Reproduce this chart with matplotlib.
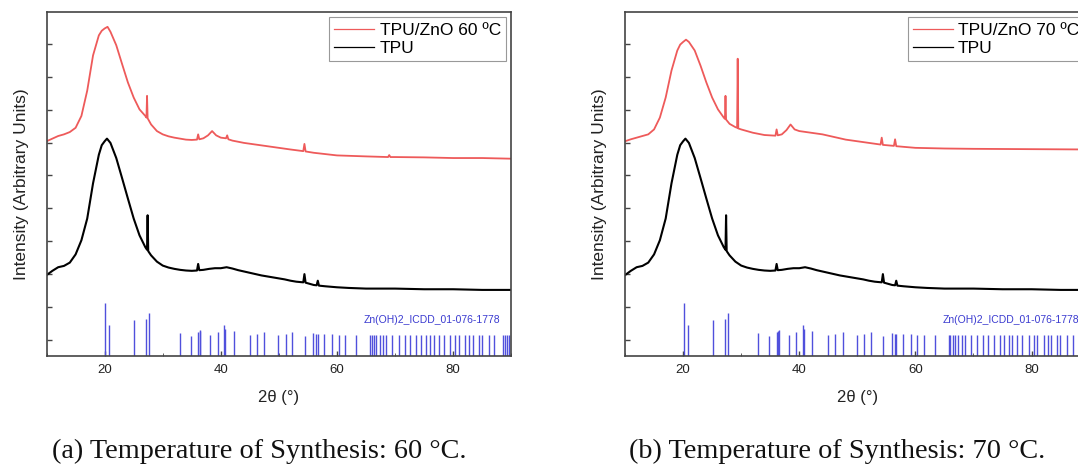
import matplotlib
matplotlib.use("Agg")
import matplotlib.pyplot as plt
from matplotlib.ticker import MultipleLocator

plt.rcParams["font.family"] = ["Liberation Sans", "DejaVu Sans"]

# 2theta / intensity (arbitrary, stacked units)
tpu_x = [10, 11, 12, 13, 14, 15, 16, 17, 18, 19, 19.5, 20, 20.4, 21, 22, 23, 24, 25, 26, 27,
         27.3, 27.4, 27.5, 28, 29, 30, 31, 32, 33, 34, 35, 35.9, 36.1, 36.3, 37, 38, 39, 40,
         41, 42, 43, 44, 45, 46, 47, 48, 49, 50, 51, 52, 53, 54.2, 54.4, 54.6, 55, 56, 56.5,
         56.7, 56.9, 58, 60, 62, 65, 70, 75, 80, 85, 90]
tpu_y = [1.97, 2.10, 2.21, 2.25, 2.35, 2.60, 3.03, 3.69, 4.76, 5.63, 5.92, 6.04, 6.12, 5.99,
         5.53, 4.92, 4.30, 3.69, 3.18, 2.82, 2.74, 3.79, 2.70, 2.57, 2.38, 2.26, 2.20, 2.16,
         2.13, 2.11, 2.10, 2.11, 2.31, 2.12, 2.13, 2.16, 2.18, 2.18, 2.21, 2.17, 2.12, 2.08,
         2.04, 2.00, 1.96, 1.93, 1.90, 1.87, 1.84, 1.80, 1.77, 1.75, 2.00, 1.74, 1.72, 1.67,
         1.66, 1.80, 1.65, 1.63, 1.60, 1.58, 1.56, 1.56, 1.54, 1.54, 1.52, 1.52]

zno60_x = [10, 11, 12, 13, 14, 15, 16, 17, 18, 19, 19.5, 20, 20.5, 21, 22, 23, 24, 25, 26, 27,
           27.2, 27.3, 27.4, 28, 29, 30, 31, 32, 33, 34, 35, 35.9, 36.1, 36.3, 37, 37.8, 38.5,
           39.2, 40, 40.9, 41.1, 41.3, 42, 44, 46, 48, 50, 52, 54.2, 54.4, 54.6, 56, 58, 60,
           65, 68.8, 69, 69.2, 70, 75, 80, 85, 90]
zno60_y = [6.04, 6.12, 6.20, 6.25, 6.32, 6.45, 6.81, 7.58, 8.65, 9.26, 9.40, 9.47, 9.52, 9.37,
           8.96, 8.39, 7.83, 7.37, 7.01, 6.81, 6.76, 7.42, 6.74, 6.55, 6.35, 6.25, 6.19, 6.15,
           6.12, 6.09, 6.08, 6.09, 6.25, 6.10, 6.13, 6.22, 6.35, 6.22, 6.15, 6.13, 6.22, 6.10,
           6.06, 5.99, 5.94, 5.89, 5.84, 5.79, 5.74, 5.96, 5.73, 5.69, 5.65, 5.61, 5.58, 5.56,
           5.62, 5.56, 5.56, 5.55, 5.53, 5.53, 5.51]

zno70_x = [10, 11, 12, 13, 14, 15, 16, 17, 18, 19, 19.5, 20, 20.5, 21, 22, 23, 24, 25, 26, 27,
           27.2, 27.3, 27.4, 28, 29, 29.3, 29.4, 29.5, 30, 32, 34, 35.9, 36.1, 36.3, 37, 37.8,
           38.5, 39.2, 40, 42, 44, 46, 48, 50, 52, 54, 54.2, 54.4, 56.3, 56.5, 56.7, 58, 60,
           65, 70, 80, 90]
zno70_y = [6.04, 6.10, 6.15, 6.20, 6.25, 6.40, 6.76, 7.37, 8.19, 8.80, 8.98, 9.06, 9.13, 9.06,
           8.80, 8.34, 7.83, 7.37, 7.01, 6.76, 6.72, 7.42, 6.70, 6.57, 6.47, 6.45, 8.55, 6.43,
           6.40, 6.30, 6.23, 6.21, 6.40, 6.22, 6.25, 6.38, 6.55, 6.40, 6.35, 6.30, 6.25, 6.17,
           6.09, 6.04, 5.99, 5.94, 6.15, 5.93, 5.90, 6.10, 5.89, 5.87, 5.84, 5.82, 5.81, 5.80,
           5.79]

# Zn(OH)2 ICDD 01-076-1778 reference lines (position, relative intensity %)
ref_pos = [20.1, 20.8, 25.1, 27.2, 27.7, 32.9, 34.8, 36.1, 36.4, 36.5, 38.2, 39.5, 40.6, 40.8,
           42.2, 45.0, 46.2, 47.5, 49.9, 51.2, 52.3, 54.5, 55.9, 56.4, 56.7, 57.8, 59.2, 60.3,
           61.4, 63.3, 65.7, 66.0, 66.4, 66.8, 67.4, 68.0, 68.5, 69.5, 70.6, 71.7, 72.5, 73.6,
           74.5, 75.3, 76.1, 76.7, 77.5, 78.4, 79.5, 80.4, 81.0, 82.1, 82.8, 83.4, 84.4, 84.9,
           86.1, 87.1, 88.6, 88.9, 89.3, 89.7]
ref_int = [100, 58, 69, 71, 82, 44, 38, 46, 48, 50, 40, 45, 58, 52,
           47, 40, 42, 45, 40, 41, 45, 38, 44, 42, 42, 42, 41, 40,
           40, 40, 40, 40, 40, 40, 40, 40, 40, 40, 40, 40, 40, 40,
           40, 40, 40, 40, 40, 40, 40, 40, 40, 40, 40, 40, 40, 40,
           40, 40, 40, 40, 40, 40]

panels = [("TPU/ZnO 60 ºC", zno60_x, zno60_y, "(a) Temperature of Synthesis: 60 °C."),
          ("TPU/ZnO 70 ºC", zno70_x, zno70_y, "(b) Temperature of Synthesis: 70 °C.")]

fig = plt.figure(figsize=(10.78, 4.68), dpi=100)
ax_lefts = [0.0432, 0.5798]
cap_x = [0.2407, 0.777]
ymin, ymax = -0.49, 9.97

for i, (lab, zx, zy, cap) in enumerate(panels):
    ax = fig.add_axes([ax_lefts[i], 0.2393, 0.431, 0.735])
    ax.plot(zx, zy, color="#ee5a5a", lw=1.3, label=lab)
    ax.plot(tpu_x, tpu_y, color="black", lw=1.5, label="TPU")
    ax.vlines(ref_pos, ymin, [ymin + v / 100 * 1.6 for v in ref_int], color="#5050dc", lw=1.0)
    ax.text(88.2, 0.62, "Zn(OH)2_ICDD_01-076-1778", color="#3a3ad0", fontsize=7.5,
            ha="right", va="center")
    ax.set_xlim(10, 90)
    ax.set_ylim(ymin, ymax)
    ax.xaxis.set_major_locator(MultipleLocator(20))
    ax.xaxis.set_minor_locator(MultipleLocator(10))
    ax.yaxis.set_major_locator(MultipleLocator(1))
    ax.set_yticklabels([])
    ax.tick_params(direction="in", length=3.5, width=1.0, color="#444444",
                   labelsize=9.5, labelcolor="#222222", pad=6)
    ax.tick_params(axis="x", which="minor", direction="in", length=2.5, color="#444444")
    for s in ax.spines.values():
        s.set_color("#444444")
        s.set_linewidth(1.2)
    ax.set_xlabel("2θ (°)", fontsize=12, color="#222222", labelpad=10)
    ax.set_ylabel("Intensity (Arbitrary Units)", fontsize=12.5, color="#222222")
    ax.yaxis.set_label_coords(-0.038, 0.5)
    leg = ax.legend(loc="upper right", fontsize=12.5, frameon=True, fancybox=False,
                    framealpha=1, edgecolor="#999999", borderpad=0.3, handlelength=2.3,
                    handletextpad=0.3, labelspacing=0.2, borderaxespad=0.3)
    leg.get_frame().set_linewidth(0.8)
    for h in leg.get_lines():
        h.set_linewidth(0.9)
    fig.text(cap_x[i], 0.0214, cap, family=["Liberation Serif", "DejaVu Serif"],
             fontsize=20.3, ha="center", va="baseline", color="#111111")

fig.savefig("out.png", dpi=100)
